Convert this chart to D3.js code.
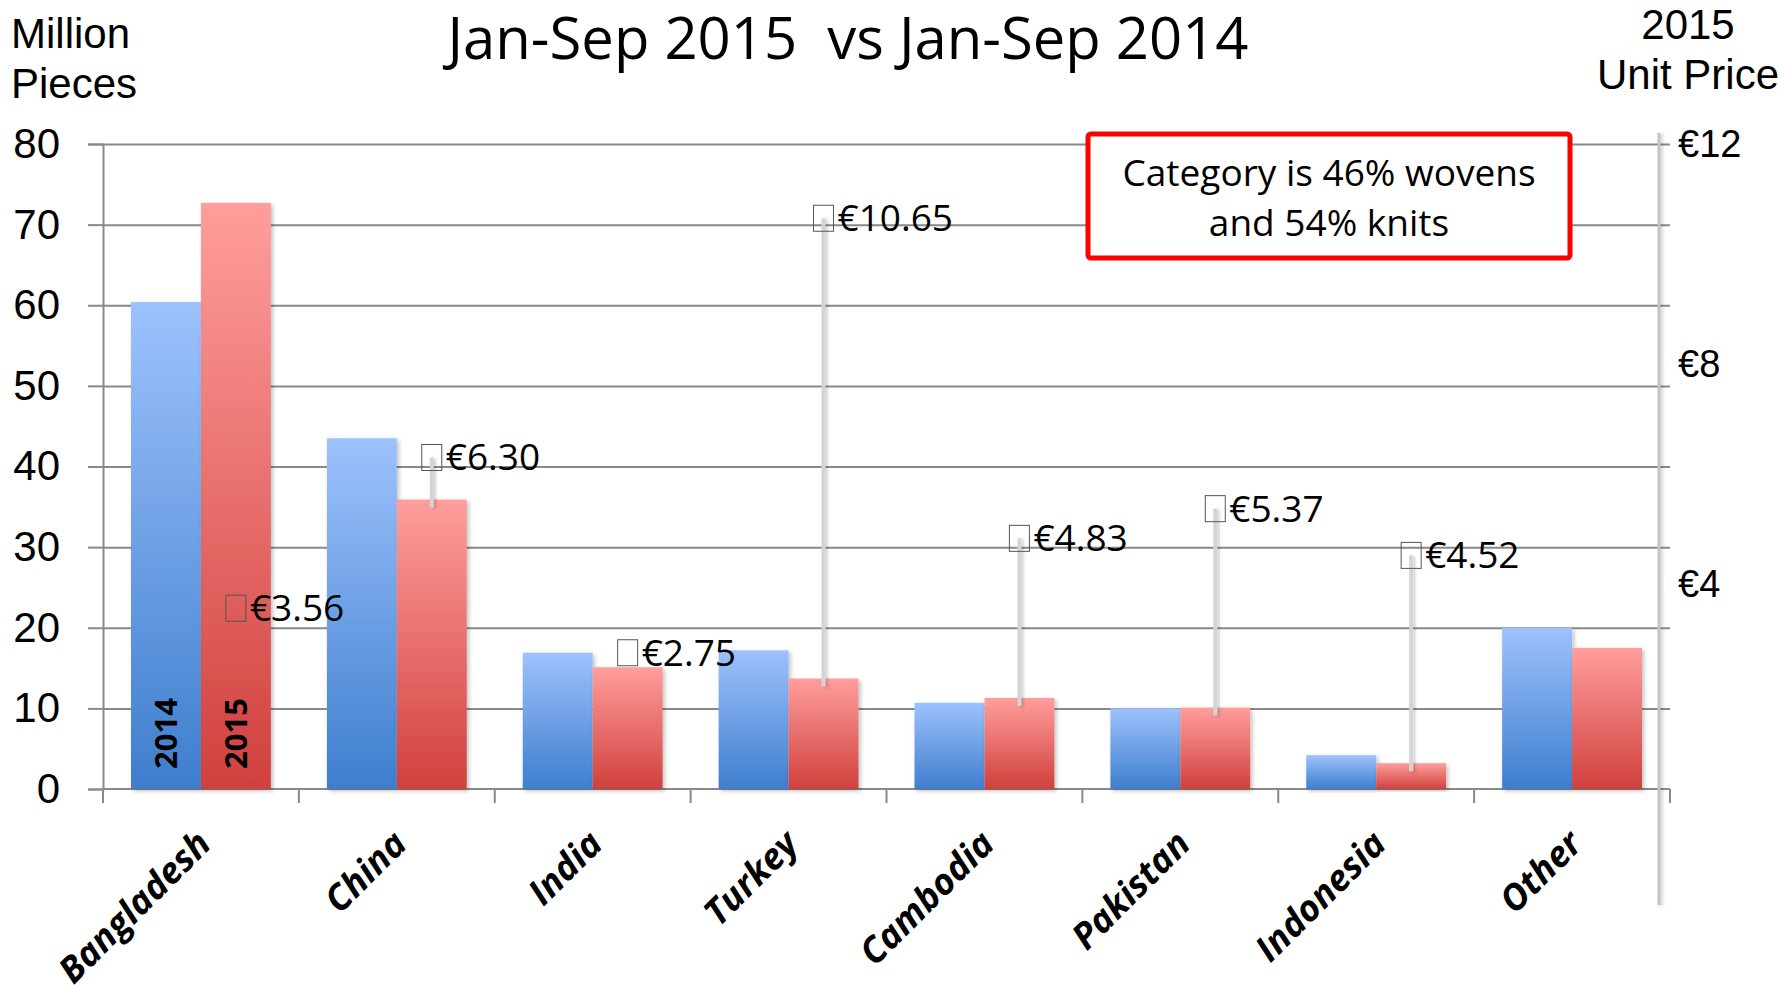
<!DOCTYPE html>
<html>
<head>
<meta charset="utf-8">
<script src="https://cdn.jsdelivr.net/npm/d3@7"></script>
<style>
  body { margin: 0; background: #fff; }
  svg { display: block; }
</style>
</head>
<body>
<div id="chart"></div>
<script>
// data
var categories = ['Bangladesh', 'China', 'India', 'Turkey', 'Cambodia', 'Pakistan', 'Indonesia', 'Other'];
var seriesNames = ['2014', '2015'];
var pieces2014 = [60.4, 43.5, 16.9, 17.2, 10.7, 10.0, 4.2, 20.0];
var pieces2015 = [72.7, 35.9, 15.1, 13.7, 11.3, 10.1, 3.2, 17.5];
var unitPrice2015 = [3.56, 6.30, 2.75, 10.65, 4.83, 5.37, 4.52, null];
var yTicks = [0, 10, 20, 30, 40, 50, 60, 70, 80];
var priceTicks = [4, 8, 12];

var width = 1784, height = 985;
var plotLeft = 103, plotRight = 1670, plotTop = 144, plotBottom = 789;
var calibri = '"Open Sans", "DejaVu Sans", sans-serif';
var arial = '"Liberation Sans", Arial, sans-serif';

var svg = d3.select('#chart').append('svg')
  .attr('width', width)
  .attr('height', height);

var defs = svg.append('defs');

function addGradient(id, top, bottom) {
  var g = defs.append('linearGradient').attr('id', id)
    .attr('x1', 0).attr('y1', 0).attr('x2', 0).attr('y2', 1);
  g.append('stop').attr('offset', '0%').attr('stop-color', top);
  g.append('stop').attr('offset', '100%').attr('stop-color', bottom);
}
addGradient('blueGrad', '#9dc2fd', '#3e7ecd');
addGradient('redGrad', '#ff9e9c', '#d0403d');

defs.append('filter').attr('id', 'shadow')
  .attr('x', '-20%').attr('y', '-5%').attr('width', '140%').attr('height', '115%')
  .append('feDropShadow')
  .attr('dx', 2).attr('dy', 2).attr('stdDeviation', 2)
  .attr('flood-color', '#000').attr('flood-opacity', 0.25);

// lines have no width in their bbox, so give their shadow a fixed region
defs.append('filter').attr('id', 'lineShadow')
  .attr('filterUnits', 'userSpaceOnUse')
  .attr('x', 0).attr('y', 0).attr('width', width).attr('height', height)
  .append('feDropShadow')
  .attr('dx', 2).attr('dy', 1).attr('stdDeviation', 1.5)
  .attr('flood-color', '#000').attr('flood-opacity', 0.2);

var x0 = d3.scaleBand()
  .domain(categories)
  .range([plotLeft, plotRight])
  .paddingInner(0.286)
  .paddingOuter(0.143);

var x1 = d3.scaleBand()
  .domain(seriesNames)
  .range([0, x0.bandwidth()]);

var y = d3.scaleLinear().domain([0, 80]).range([plotBottom, plotTop]);
var yPrice = d3.scaleLinear().domain([0, 12]).range([804, 144]);

// gridlines
var grid = svg.append('g')
  .attr('transform', 'translate(' + plotLeft + ',0)')
  .call(d3.axisLeft(y).tickValues(yTicks.slice(1)).tickSize(-(plotRight - plotLeft)).tickFormat(''));
grid.select('.domain').remove();
grid.selectAll('line').attr('stroke', '#898989').attr('stroke-width', 2);

// left axis
var yAxis = svg.append('g')
  .attr('transform', 'translate(' + plotLeft + ',0)')
  .call(d3.axisLeft(y).tickValues(yTicks).tickSize(15).tickPadding(28));
yAxis.select('.domain').attr('stroke', '#898989').attr('stroke-width', 2);
yAxis.selectAll('line').attr('stroke', '#898989').attr('stroke-width', 2);
yAxis.selectAll('text')
  .attr('font-family', arial)
  .attr('font-size', 42)
  .attr('fill', '#000');

// category axis with ticks between groups
var step = x0.step();
var gap = (step - x0.bandwidth()) / 2;
var boundaries = categories.map(function(d) { return x0(d) - gap; }).concat([plotRight]);

svg.append('line')
  .attr('x1', plotLeft).attr('x2', plotRight)
  .attr('y1', y(0)).attr('y2', y(0))
  .attr('stroke', '#898989').attr('stroke-width', 2);

svg.selectAll('.xtick')
  .data(boundaries)
  .enter()
  .append('line')
  .attr('class', 'xtick')
  .attr('x1', function(d) { return d; })
  .attr('x2', function(d) { return d; })
  .attr('y1', y(0))
  .attr('y2', y(0) + 14)
  .attr('stroke', '#898989').attr('stroke-width', 2);

// bars
var groups = svg.selectAll('.group')
  .data(categories)
  .enter()
  .append('g')
  .attr('class', 'group')
  .attr('transform', function(d) { return 'translate(' + x0(d) + ',0)'; });

groups.append('rect')
  .attr('x', x1('2014'))
  .attr('width', x1.bandwidth())
  .attr('y', function(d, i) { return y(pieces2014[i]); })
  .attr('height', function(d, i) { return y(0) - y(pieces2014[i]); })
  .attr('fill', 'url(#blueGrad)')
  .attr('filter', 'url(#shadow)');

groups.append('rect')
  .attr('x', x1('2015'))
  .attr('width', x1.bandwidth())
  .attr('y', function(d, i) { return y(pieces2015[i]); })
  .attr('height', function(d, i) { return y(0) - y(pieces2015[i]); })
  .attr('fill', 'url(#redGrad)')
  .attr('filter', 'url(#shadow)');

// series names inside the first group
svg.selectAll('.seriesName')
  .data(seriesNames)
  .enter()
  .append('text')
  .attr('class', 'seriesName')
  .attr('transform', function(d) {
    return 'translate(' + (x0(categories[0]) + x1(d) + x1.bandwidth() / 2) + ',' + (y(0) - 20) + ') rotate(-90)';
  })
  .attr('dy', '0.35em')
  .attr('font-family', calibri)
  .attr('font-weight', 'bold')
  .attr('font-size', 31)
  .attr('fill', '#000')
  .text(function(d) { return d; });

// unit price: leader lines, markers, labels
var priceData = categories.map(function(d, i) {
  return { cat: d, price: unitPrice2015[i], bar: pieces2015[i] };
}).filter(function(d) { return d.price != null; });

function priceX(d) { return x0(d.cat) + x1('2015') + x1.bandwidth() / 2; }

// only where the marker sits clearly above its bar
svg.selectAll('.leader')
  .data(priceData.filter(function(d) { return yPrice(d.price) < y(d.bar) - 20; }))
  .enter()
  .append('line')
  .attr('class', 'leader')
  .attr('x1', priceX)
  .attr('x2', priceX)
  .attr('y1', function(d) { return yPrice(d.price); })
  .attr('y2', function(d) { return y(d.bar) + 8; })
  .attr('stroke', '#d4d4d4')
  .attr('stroke-width', 4)
  .attr('filter', 'url(#lineShadow)');

svg.selectAll('.marker')
  .data(priceData)
  .enter()
  .append('rect')
  .attr('class', 'marker')
  .attr('x', function(d) { return priceX(d) - 10; })
  .attr('y', function(d) { return yPrice(d.price) - 13; })
  .attr('width', 20)
  .attr('height', 26)
  .attr('fill', 'none')
  .attr('stroke', '#555')
  .attr('stroke-width', 1);

svg.selectAll('.priceLabel')
  .data(priceData)
  .enter()
  .append('text')
  .attr('class', 'priceLabel')
  .attr('x', function(d) { return priceX(d) + 14; })
  .attr('y', function(d) { return yPrice(d.price); })
  .attr('dy', '0.35em')
  .attr('font-family', calibri)
  .attr('font-size', 37)
  .attr('fill', '#000')
  .text(function(d) { return '€' + d3.format('.2f')(d.price); });

// secondary axis
svg.append('line')
  .attr('x1', 1659).attr('x2', 1659)
  .attr('y1', yPrice(12.2)).attr('y2', 905)
  .attr('stroke', '#c4c4c4')
  .attr('stroke-width', 3)
  .attr('filter', 'url(#lineShadow)');

var priceAxis = svg.append('g')
  .attr('transform', 'translate(1659,0)')
  .call(d3.axisRight(yPrice).tickValues(priceTicks).tickSize(0).tickPadding(19)
    .tickFormat(function(d) { return '€' + d; }));
priceAxis.select('.domain').remove();
priceAxis.selectAll('text')
  .attr('font-family', arial)
  .attr('font-size', 38)
  .attr('fill', '#000');

// category labels
svg.selectAll('.catLabel')
  .data(categories)
  .enter()
  .append('text')
  .attr('class', 'catLabel')
  .attr('transform', function(d) {
    return 'translate(' + (x0(d) + x0.bandwidth() / 2 + 12) + ',846) rotate(-45)';
  })
  .attr('text-anchor', 'end')
  .attr('font-family', calibri)
  .attr('font-weight', 'bold')
  .attr('font-style', 'italic')
  .attr('font-size', 36)
  .attr('fill', '#000')
  .text(function(d) { return d; });

// titles
svg.append('text')
  .attr('x', 848).attr('y', 59)
  .attr('text-anchor', 'middle')
  .attr('font-family', calibri)
  .attr('font-size', 58)
  .style('white-space', 'pre')
  .text('Jan-Sep 2015  vs Jan-Sep 2014');

svg.append('text').attr('x', 11).attr('y', 48)
  .attr('font-family', arial).attr('font-size', 42).text('Million');
svg.append('text').attr('x', 11).attr('y', 98)
  .attr('font-family', arial).attr('font-size', 42).text('Pieces');

svg.append('text').attr('x', 1688).attr('y', 39).attr('text-anchor', 'middle')
  .attr('font-family', arial).attr('font-size', 42).text('2015');
svg.append('text').attr('x', 1688).attr('y', 89).attr('text-anchor', 'middle')
  .attr('font-family', arial).attr('font-size', 42).text('Unit Price');

// call-out box
svg.append('rect')
  .attr('x', 1088).attr('y', 134)
  .attr('width', 482).attr('height', 124)
  .attr('rx', 3)
  .attr('fill', '#fff')
  .attr('stroke', '#ff0000')
  .attr('stroke-width', 5);

svg.append('text').attr('x', 1329).attr('y', 173).attr('dy', '0.35em')
  .attr('text-anchor', 'middle')
  .attr('font-family', calibri).attr('font-size', 37)
  .text('Category is 46% wovens');
svg.append('text').attr('x', 1329).attr('y', 223).attr('dy', '0.35em')
  .attr('text-anchor', 'middle')
  .attr('font-family', calibri).attr('font-size', 37)
  .text('and 54% knits');
</script>
</body>
</html>
